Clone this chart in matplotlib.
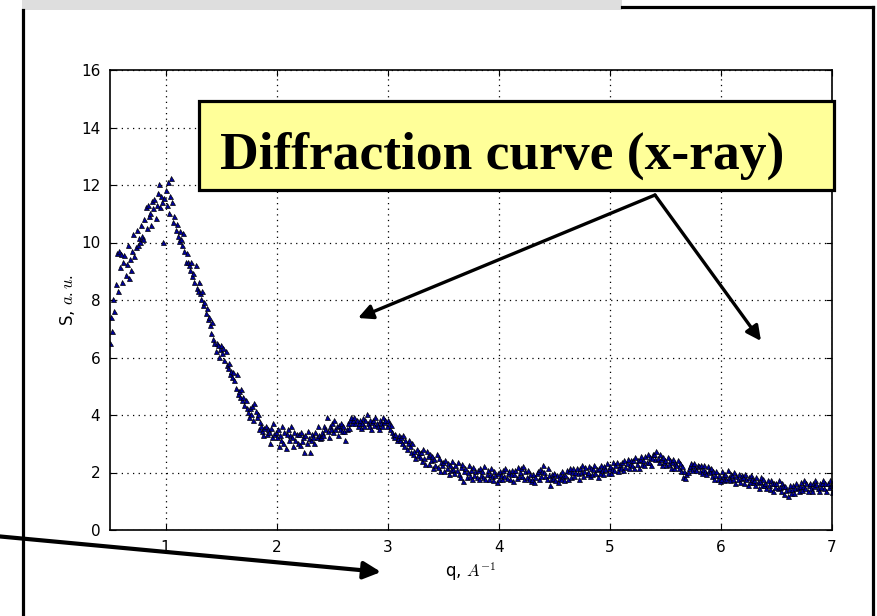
import matplotlib
matplotlib.use("Agg")
import matplotlib.pyplot as plt
import numpy as np
from matplotlib.patches import Rectangle

# scattering intensity, one value every 0.01 in q, starting at q = 0.5
s_values = [
    6.52, 7.41, 6.93, 8.04, 7.62, 8.55, 9.63, 8.31, 9.72, 9.14,
    9.61, 8.63, 9.32, 9.58, 8.87, 9.24, 9.93, 8.78, 9.41, 9.05,
    9.72, 10.31, 9.52, 9.84, 10.42, 9.93, 10.14, 10.02, 10.61, 10.23,
    10.12, 10.83, 11.24, 10.51, 11.32, 10.93, 11.04, 10.62, 11.43, 11.21,
    11.53, 10.84, 11.32, 11.72, 12.04, 11.23, 11.61, 11.42, 10.03, 11.54,
    11.83, 11.31, 12.12, 11.03, 11.62, 12.25, 11.41, 10.72, 10.93, 10.42,
    10.63, 10.22, 10.04, 10.41, 10.12, 9.93, 10.32, 9.71, 9.32, 9.64,
    9.31, 9.22, 9.04, 9.33, 8.82, 8.93, 8.64, 9.21, 8.42, 8.31,
    8.62, 8.23, 8.04, 8.31, 7.82, 7.93, 7.54, 7.72, 7.33, 7.42,
    7.13, 6.84, 7.22, 6.63, 6.52, 6.24, 6.51, 6.42, 6.03, 6.31,
    6.42, 6.14, 6.33, 5.92, 6.21, 5.74, 5.63, 5.82, 5.44, 5.53,
    5.32, 5.51, 5.22, 4.94, 5.43, 4.74, 4.83, 4.62, 4.91, 4.52,
    4.63, 4.34, 4.52, 4.23, 4.12, 3.93, 4.24, 4.03, 4.31, 3.84,
    4.42, 4.13, 3.92, 4.04, 3.53, 3.74, 3.62, 3.43, 3.32, 3.54,
    3.63, 3.34, 3.52, 3.41, 3.03, 3.54, 3.22, 3.71, 3.33, 3.42,
    3.24, 3.52, 2.93, 3.31, 3.12, 3.63, 3.04, 3.42, 2.84, 3.33,
    3.52, 3.14, 3.32, 3.61, 3.23, 2.92, 3.41, 3.13, 3.34, 3.02,
    3.33, 2.94, 3.42, 3.11, 3.22, 2.73, 3.31, 3.03, 3.44, 3.21,
    2.72, 3.12, 3.34, 3.23, 3.02, 3.41, 3.22, 3.63, 3.32, 3.21,
    3.23, 3.42, 3.31, 3.62, 3.53, 3.92, 3.44, 3.22, 3.61, 3.52,
    3.73, 3.42, 3.81, 3.53, 3.62, 3.31, 3.64, 3.52, 3.71, 3.43,
    3.62, 3.44, 3.13, 3.52, 3.73, 3.54, 3.82, 3.93, 3.72, 3.81,
    3.92, 3.73, 3.84, 3.62, 3.71, 3.83, 3.54, 3.72, 3.91, 3.63,
    3.84, 4.02, 3.73, 3.62, 3.81, 3.53, 3.74, 3.83, 3.64, 3.92,
    3.71, 3.63, 3.52, 3.84, 3.72, 3.61, 3.93, 3.74, 3.82, 3.63,
    3.82, 3.71, 3.53, 3.64, 3.42, 3.31, 3.22, 3.34, 3.13, 3.21,
    3.32, 3.12, 3.23, 3.04, 3.31, 2.93, 3.12, 2.82, 3.03, 3.14,
    2.92, 2.73, 3.02, 2.63, 2.74, 2.52, 2.83, 2.61, 2.72, 2.54,
    2.72, 2.41, 2.83, 2.52, 2.31, 2.74, 2.56, 2.28, 2.65, 2.43,
    2.58, 2.14, 2.46, 2.27, 2.63, 2.18, 2.49, 2.06, 2.37, 2.25,
    2.38, 2.05, 2.44, 2.16, 2.33, 1.96, 2.27, 2.08, 2.41, 2.13,
    1.97, 2.26, 2.08, 2.35, 1.94, 1.86, 2.19, 2.28, 1.72, 2.04,
    2.16, 1.84, 2.03, 2.27, 1.88, 2.07, 1.79, 2.18, 1.92, 2.06,
    1.86, 2.09, 1.78, 2.17, 1.91, 2.04, 1.83, 2.21, 1.76, 1.95,
    2.07, 1.78, 1.96, 2.14, 1.87, 1.75, 2.05, 1.93, 1.68, 1.97,
    1.79, 2.06, 1.92, 1.76, 2.08, 1.88, 2.16, 1.81, 1.97, 2.04,
    1.78, 1.94, 2.07, 1.69, 1.95, 2.09, 1.81, 2.18, 1.89, 2.03,
    2.16, 1.88, 2.24, 1.79, 2.05, 1.86, 2.07, 1.77, 1.96, 1.71,
    1.76, 1.94, 1.67, 1.83, 1.97, 2.05, 1.78, 2.13, 1.87, 2.06,
    2.27, 2.02, 1.88, 1.76, 2.14, 1.92, 1.57, 1.79, 1.95, 1.81,
    1.97, 1.75, 1.93, 1.68, 1.82, 1.96, 1.77, 2.06, 1.89, 1.74,
    1.91, 2.07, 1.78, 2.04, 2.15, 1.86, 2.03, 2.17, 1.88, 2.01,
    2.16, 1.97, 1.76, 2.14, 2.02, 2.27, 1.89, 2.05, 2.18, 1.96,
    2.03, 2.24, 1.87, 2.15, 1.96, 2.13, 2.26, 1.99, 2.12, 1.85,
    2.14, 1.97, 2.25, 2.08, 1.95, 2.23, 2.11, 2.34, 1.98, 2.16,
    2.24, 1.98, 2.13, 2.36, 2.07, 2.26, 2.35, 2.04, 2.19, 2.31,
    2.17, 2.36, 2.08, 2.44, 2.19, 2.32, 2.47, 2.16, 2.29, 2.42,
    2.26, 2.45, 2.17, 2.54, 2.28, 2.43, 2.15, 2.46, 2.57, 2.29,
    2.43, 2.27, 2.56, 2.38, 2.64, 2.36, 2.53, 2.25, 2.51, 2.66,
    2.63, 2.48, 2.74, 2.52, 2.35, 2.64, 2.47, 2.26, 2.55, 2.38,
    2.45, 2.26, 2.53, 2.28, 2.44, 2.16, 2.35, 2.47, 2.14, 2.32,
    2.27, 2.45, 2.16, 2.34, 2.05, 2.24, 1.86, 2.06, 1.82, 1.95,
    2.03, 2.14, 2.24, 2.33, 2.08, 2.25, 2.34, 2.16, 2.07, 2.26,
    2.24, 2.06, 2.25, 1.97, 2.13, 2.27, 2.05, 1.96, 2.23, 2.08,
    2.03, 2.16, 1.87, 2.04, 1.78, 1.93, 2.06, 1.76, 1.92, 1.69,
    1.77, 2.04, 1.88, 1.75, 1.96, 1.79, 2.07, 1.85, 1.73, 1.94,
    1.93, 1.76, 2.03, 1.64, 1.88, 1.77, 1.95, 1.66, 1.82, 1.91,
    1.83, 1.65, 1.94, 1.76, 1.57, 1.84, 1.68, 1.93, 1.79, 1.66,
    1.74, 1.56, 1.85, 1.67, 1.46, 1.72, 1.83, 1.55, 1.76, 1.58,
    1.64, 1.47, 1.75, 1.58, 1.44, 1.73, 1.62, 1.36, 1.65, 1.49,
    1.63, 1.45, 1.74, 1.48, 1.37, 1.64, 1.52, 1.26, 1.54, 1.38,
    1.17, 1.43, 1.56, 1.28, 1.42, 1.55, 1.27, 1.46, 1.63, 1.48,
    1.37, 1.54, 1.66, 1.38, 1.52, 1.73, 1.46, 1.64, 1.36, 1.55,
    1.64, 1.47, 1.36, 1.65, 1.52, 1.74, 1.61, 1.46, 1.35, 1.63,
    1.48, 1.65, 1.74, 1.46, 1.62, 1.37, 1.64, 1.51, 1.73, 1.58,
    1.32,
]
q_values = np.linspace(0.5, 7.0, len(s_values))

x_ticks = [1, 2, 3, 4, 5, 6, 7]
y_ticks = [0, 2, 4, 6, 8, 10, 12, 14, 16]

plt.rcParams["mathtext.fontset"] = "cm"
plt.rcParams["xtick.direction"] = "in"
plt.rcParams["ytick.direction"] = "in"

W, H = 878, 616
fig = plt.figure(figsize=(W / 100, H / 100), dpi=100)


def fx(px):
    return px / W


def fy(py):
    return 1 - py / H


ax = fig.add_axes([fx(110), fy(530), fx(832) - fx(110), fy(70) - fy(530)])
ax.plot(q_values, s_values, linestyle="none", marker="^", markersize=3.6,
        markerfacecolor="#0000a0", markeredgecolor="black", markeredgewidth=0.5)

ax.set_xlim(0.5, 7.0)
ax.set_ylim(0, 16)
ax.set_xticks(x_ticks)
ax.set_yticks(y_ticks)
ax.tick_params(top=True, right=True, length=4, width=0.8, labelsize=11, pad=7)
ax.grid(True, linestyle=(0, (1, 3.5)), color="black", linewidth=0.9)
for sp in ax.spines.values():
    sp.set_linewidth(1.2)

ax.set_xlabel(r"q, $A^{-1}$", fontsize=12)
ax.set_ylabel(r"S, $a{.}u{.}$", fontsize=12)
ax.xaxis.set_label_coords(0.5, -0.065)
ax.yaxis.set_label_coords(-0.046, 0.5)

# slide frame around the plot
fig.add_artist(Rectangle((fx(22), fy(10)), fx(622) - fx(22), fy(0) - fy(10),
                         facecolor="#dedede", edgecolor="none"))
frame_kw = dict(color="black", linewidth=2.3, solid_capstyle="projecting")
fig.add_artist(plt.Line2D([fx(23), fx(23)], [fy(10), fy(620)], **frame_kw))
fig.add_artist(plt.Line2D([fx(873), fx(873)], [fy(7), fy(620)], **frame_kw))
fig.add_artist(plt.Line2D([fx(622), fx(873)], [fy(7), fy(7)], **frame_kw))

# callout box
fig.add_artist(Rectangle((fx(199), fy(190)), fx(834) - fx(199), fy(101) - fy(190),
                         facecolor="#ffff99", edgecolor="black", linewidth=2.3,
                         zorder=5))
fig.text(fx(220), fy(156), "Diffraction curve (x-ray)", family="Liberation Serif",
         fontweight="bold", fontsize=38.5, ha="left", va="center", zorder=6)

arrow_kw = dict(arrowstyle="-|>", color="black", lw=2.4, mutation_scale=22,
                shrinkA=0, shrinkB=0)
ax.annotate("", xy=(358, H - 318), xytext=(655, H - 195), xycoords="figure pixels",
            textcoords="figure pixels", arrowprops=arrow_kw, annotation_clip=False)
ax.annotate("", xy=(761, H - 341), xytext=(655, H - 195), xycoords="figure pixels",
            textcoords="figure pixels", arrowprops=arrow_kw, annotation_clip=False)
ax.annotate("", xy=(381, H - 572), xytext=(-5, H - 536), xycoords="figure pixels",
            textcoords="figure pixels",
            arrowprops=dict(arrowstyle="-|>", color="black", lw=3.0,
                            mutation_scale=26, shrinkA=0, shrinkB=0),
            annotation_clip=False)

fig.savefig("out.png", dpi=100)
